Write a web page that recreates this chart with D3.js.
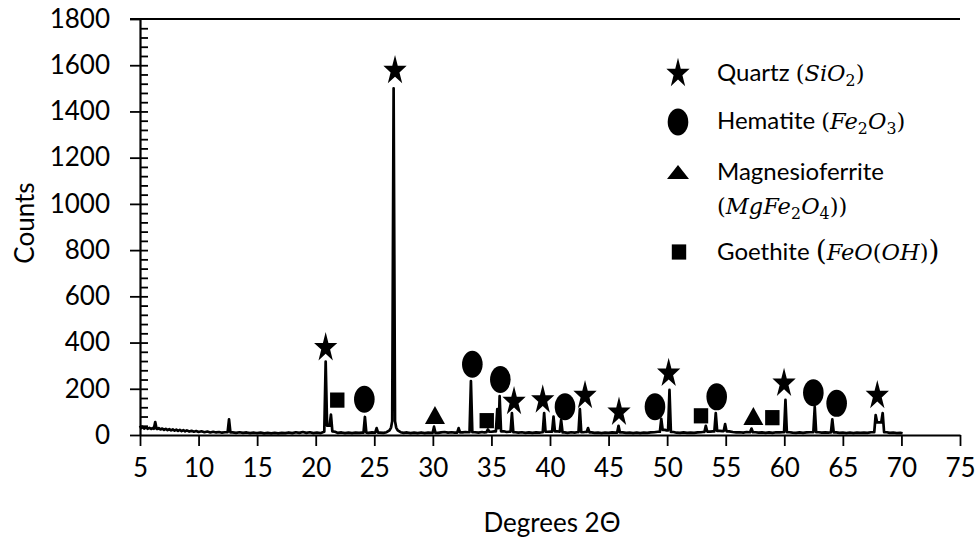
<!DOCTYPE html>
<html><head><meta charset="utf-8">
<script src="https://cdn.jsdelivr.net/npm/d3@7"></script>
<style>body{margin:0;background:#fff}svg{display:block}</style>
</head><body><svg id="c" width="979" height="542"></svg>
<script>
// ---------------- data ----------------
const xTicks = [5,10,15,20,25,30,35,40,45,50,55,60,65,70,75];
const yTicks = [0,200,400,600,800,1000,1200,1400,1600,1800];
const xTitle = "Degrees 2\u0398";
const yTitle = "Counts";

// baseline readings [degrees 2θ, counts]
const baseline = [
[5.0,40],[5.1,30],[5.2,36],[5.35,28],[5.5,33],[5.65,27],[5.8,31],[5.95,26],[6.1,30],
[6.5,26],[6.6,30],[6.75,24],[6.9,28],[7.05,22],[7.2,27],[7.35,21],[7.5,25],[7.65,20],[7.8,24],[7.95,19],
[8.1,23],[8.25,18],[8.4,22],[8.55,17],[8.7,21],[8.85,16],[9.0,20],[9.2,15],[9.4,18],[9.6,14],[9.8,17],
[10.0,13],[10.25,16],[10.5,12],[10.75,15],[11.0,11],[11.25,14],[11.5,11],[11.75,13],[12.0,10],[12.25,12],
[12.9,11],[13.2,9],[13.5,12],[13.8,9],[14.1,11],[14.4,8],[14.7,10],[15.0,8],[15.3,10],[15.6,7],[15.9,9],
[16.2,7],[16.5,9],[16.8,7],[17.1,9],[17.4,8],[17.7,11],[18.0,8],[18.3,12],[18.6,9],[18.9,13],[19.2,9],
[19.5,12],[19.8,8],[20.1,10],[20.4,8],[20.6,12],
[21.65,14],[21.9,9],[22.2,11],[22.5,8],[22.8,10],[23.1,8],[23.4,10],[23.7,9],[23.95,10],
[24.5,9],[24.8,11],[25.0,10],
[25.45,10],[25.8,9],[26.05,12],[26.3,20],[26.43,32],
[26.87,32],[27.0,20],[27.25,12],[27.5,9],[27.8,11],[28.1,8],[28.4,10],[28.7,8],[29.0,11],[29.3,8],[29.6,10],[29.85,9],
[30.45,9],[30.7,11],[31.0,13],[31.3,10],[31.6,12],[31.85,10],
[32.55,11],[32.8,13],[33.0,12],
[33.6,12],[33.9,10],[34.2,13],[34.4,11],
[35.0,14],[35.25,16],
[36.05,16],[36.3,13],[36.5,14],
[37.05,12],[37.3,10],[37.6,12],[37.9,9],[38.2,11],[38.5,9],[38.8,11],[39.1,10],[39.3,12],
[39.8,14],[40.05,15],
[40.6,16],[40.75,15],
[41.25,11],[41.5,9],[41.8,12],[42.1,10],[42.3,12],
[42.85,12],[43.0,13],
[43.55,11],[43.8,9],[44.1,10],[44.4,8],[44.7,10],[45.0,9],[45.3,11],[45.6,10],
[46.2,11],[46.5,9],[46.8,10],[47.1,8],[47.4,10],[47.7,8],[48.0,10],[48.3,9],[48.6,11],[48.9,12],[49.2,14],
[49.8,22],[49.95,20],
[50.55,13],[50.8,10],[51.1,9],[51.4,11],[51.7,9],[52.0,10],[52.3,9],[52.6,11],[52.9,12],[53.05,13],
[53.65,15],[53.9,16],
[54.5,18],[54.7,17],
[55.3,16],[55.6,13],[55.9,11],[56.2,12],[56.5,10],[56.8,13],[57.0,12],
[57.55,12],[57.8,10],[58.1,11],[58.4,9],[58.7,11],[59.0,9],[59.3,12],[59.6,11],[59.85,12],
[60.45,12],[60.7,10],[61.0,9],[61.3,11],[61.6,9],[61.9,11],[62.2,12],[62.35,12],
[62.95,12],[63.2,10],[63.5,11],[63.75,10],[63.9,11],
[64.45,11],[64.7,9],[65.0,10],[65.3,8],[65.6,10],[65.9,8],[66.2,10],[66.5,9],[66.8,10],[67.1,9],[67.4,12],[67.55,12],
[68.1,55],
[68.75,12],[69.0,9],[69.3,10],[69.6,8],[69.9,9],[70.1,7]
];

// diffraction peaks [centre 2θ, peak counts, left foot counts, right foot counts]
const peaks = [
[6.3,56,27,26],[12.6,68,12,11],[20.85,318,14,40],[21.3,88,40,16],[24.2,78,10,10],[25.2,30,10,10],
[26.65,1500,60,60],[30.1,36,9,9],[32.2,30,10,11],[33.25,233,12,12],[34.7,24,12,14],
[35.5,112,16,30],[35.7,168,30,16],[36.75,95,14,12],[39.5,95,12,14],[40.3,80,15,16],[40.95,65,15,11],
[42.55,112,12,12],[43.25,30,13,11],[45.85,40,10,11],[49.5,70,14,22],[50.2,195,20,13],
[53.3,40,13,15],[54.15,95,16,18],[54.95,47,17,16],[57.2,28,12,12],[60.1,152,12,12],
[62.6,122,12,12],[64.1,68,11,11],[67.8,86,12,55],[68.4,95,55,12]
];

// phase markers [2θ, counts]
const quartz = [[20.85,384],[26.77,1583],[36.93,151],[39.38,158],[42.99,177],[45.89,105],[50.13,273],[59.98,230],[67.94,177]];
const hematite = [[24.15,155],[33.37,306],[35.76,240],[41.28,122],[48.96,122],[54.23,165],[62.48,183],[64.47,137]];
const magnesioferrite = [[30.18,86],[57.36,82]];
const goethite = [[21.84,151],[34.6,62],[52.89,83],[58.98,75]];

// legend content: name and formula pieces (u = upright, i = italic, s = subscript)
const legendQuartz = {name:"Quartz ", math:[["(","u"],["SiO","i"],["2","s"],[")","u"]]};
const legendHematite = {name:"Hematite ", math:[["(","u"],["Fe","i"],["2","s"],["O","i"],["3","s"],[")","u"]]};
const legendMagnesio = {name:"Magnesioferrite", math:[["(","u"],["MgFe","i"],["2","s"],["O","i"],["4","s"],["))","u"]]};
const legendGoethite = {name:"Goethite ", math:[["(","big"],["FeO","i"],["(","u"],["OH","i"],[")","u"],[")","big"]]};

// ---------------- drawing ----------------
const svg = d3.select('#c');
const SANS = "Lato, 'Open Sans', sans-serif";
const SERIF = "'DejaVu Serif', serif";
const FS_TICK = 26, FS_TITLE = 26, FS = 24, FS_MATH = 22.5;

const x = d3.scaleLinear().domain([5,75]).range([140,960]);
const y = d3.scaleLinear().domain([0,1800]).range([435,19]);

// top line
svg.append('line').attr('x1', x(5)-10).attr('x2', x(75)).attr('y1', y(1800)).attr('y2', y(1800))
  .attr('stroke','#000').attr('stroke-width',2);

// x axis
const gx = svg.append('g').attr('transform',`translate(0,${y(0)})`)
  .call(d3.axisBottom(x).tickValues(xTicks).tickSize(11).tickSizeOuter(0).tickPadding(13).tickFormat(d3.format('d')));
gx.select('.domain').attr('stroke-width',2.2);
gx.selectAll('.tick line').attr('stroke-width',1.8);
gx.selectAll('text').attr('font-family',SANS).attr('font-size',FS_TICK).attr('fill','#000');

// y axis (major outside)
const gy = svg.append('g').attr('transform',`translate(${x(5)},0)`)
  .call(d3.axisLeft(y).tickValues(yTicks).tickSize(10).tickSizeOuter(0).tickPadding(20).tickFormat(d3.format('d')));
gy.select('.domain').attr('stroke-width',2.2);
gy.selectAll('.tick line').attr('stroke-width',1.8);
gy.selectAll('text').attr('font-family',SANS).attr('font-size',FS_TICK).attr('fill','#000');

// y minor ticks (inside)
const minor = d3.range(40, 1800, 40);
const gm = svg.append('g').attr('transform',`translate(${x(5)},0)`)
  .call(d3.axisRight(y).tickValues(minor).tickSize(8).tickFormat(''));
gm.select('.domain').remove();
gm.selectAll('.tick line').attr('stroke-width',1.8);

// titles
svg.append('text').attr('x', (x(5)+x(75))/2 + 2).attr('y', 532).attr('text-anchor','middle')
  .attr('font-family',SANS).attr('font-size',FS_TITLE).text(xTitle);
svg.append('text').attr('transform',`translate(34,${(y(0)+y(1800))/2 - 4}) rotate(-90)`).attr('text-anchor','middle')
  .attr('font-family',SANS).attr('font-size',FS_TITLE).text(yTitle);

// spectrum
const verts = baseline.map(d=>[d[0],d[1]]);
const HW = 0.12;
peaks.forEach(p=>{ verts.push([p[0]-HW,p[2]],[p[0],p[1]],[p[0]+HW,p[3]]); });
verts.sort((a,b)=>a[0]-b[0]);
svg.append('path').attr('d', d3.line().x(d=>x(d[0])).y(d=>y(d[1]))(verts))
  .attr('fill','none').attr('stroke','#000').attr('stroke-width',2.7).attr('stroke-linejoin','round');

// markers
const starD = d3.symbol().type(d3.symbolStar).size(168)();
function star(g,cx,cy){ g.append('path').attr('d',starD).attr('transform',`translate(${cx},${cy+1.5}) scale(1,1.28)`); }
function ell(g,cx,cy){ g.append('ellipse').attr('cx',cx).attr('cy',cy).attr('rx',10.3).attr('ry',13.5); }
function tri(g,cx,cy,w,h){ g.append('path').attr('d',`M${cx},${cy-h/2}L${cx+w/2},${cy+h/2}L${cx-w/2},${cy+h/2}Z`); }
function sq(g,cx,cy){ g.append('rect').attr('x',cx-7.2).attr('y',cy-7.6).attr('width',14.4).attr('height',15.2); }

const gmk = svg.append('g').attr('fill','#000');
quartz.forEach(d=>star(gmk,x(d[0]),y(d[1])));
hematite.forEach(d=>ell(gmk,x(d[0]),y(d[1])));
magnesioferrite.forEach(d=>tri(gmk,x(d[0]),y(d[1]),20,18));
goethite.forEach(d=>sq(gmk,x(d[0]),y(d[1])));

// legend
const LX = 678, TX = 717;
const gl = svg.append('g').attr('fill','#000');
function mathText(t, pieces){
  pieces.forEach(([s,k])=>{
    const ts = t.append('tspan').attr('font-family',SERIF).attr('font-size',FS_MATH).text(s);
    if(k==='i'){ ts.attr('font-style','italic'); }
    if(k==='s'){ ts.attr('font-size',FS_MATH*0.7).attr('dy',5); t.append('tspan').attr('font-size',2).attr('dy',-5).text('\u200a'); }
    if(k==='big'){ ts.attr('font-size',FS_MATH*1.25); }
  });
}
function entry(item, cy, nameOnly){
  const t = gl.append('text').attr('x',TX).attr('y',cy+8).attr('font-family',SANS).attr('font-size',FS);
  t.append('tspan').text(item.name);
  if(!nameOnly) mathText(t,item.math);
  return t;
}
star(gl,LX,72); entry(legendQuartz,73);
ell(gl,LX,122); entry(legendHematite,121);
tri(gl,LX,172,22,14); entry(legendMagnesio,172,true);
{ const t = gl.append('text').attr('x',TX).attr('y',214).attr('font-size',FS); mathText(t,legendMagnesio.math); }
sq(gl,LX+1,252); entry(legendGoethite,252);
</script></body></html>
